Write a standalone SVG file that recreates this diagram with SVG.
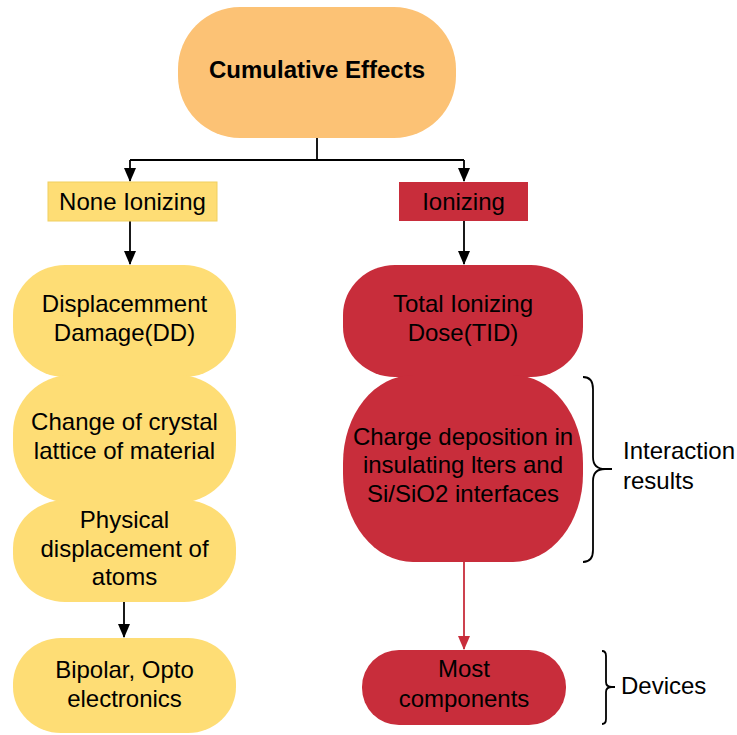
<svg xmlns="http://www.w3.org/2000/svg" width="737" height="735" viewBox="0 0 737 735">
<style>
text{font-family:"Liberation Sans",Arial,sans-serif;font-size:24px;fill:#000;text-anchor:middle}
.b{font-weight:bold}
.l{text-anchor:start}
.orange{fill:#FCC275}
.yellow{fill:#FEDD75}
.red{fill:#C82D3B}
.ln{fill:none;stroke:#000;stroke-width:1.8}
.rl{fill:none;stroke:#C82D3B;stroke-width:1.8}
</style>
<defs>
<marker id="ab" markerWidth="14" markerHeight="12" refX="13" refY="6" orient="auto" markerUnits="userSpaceOnUse" viewBox="0 0 14 12">
<path d="M0,0 L14,6 L0,12 Z" fill="#000"/>
</marker>
<marker id="ar" markerWidth="14" markerHeight="12" refX="13" refY="6" orient="auto" markerUnits="userSpaceOnUse" viewBox="0 0 14 12">
<path d="M0,0 L14,6 L0,12 Z" fill="#C82D3B"/>
</marker>
</defs>
<g id="connectors">
<path class="ln" d="M317,138 V160 M130,160 H464"/>
<path class="ln" d="M130,160 V181" marker-end="url(#ab)"/>
<path class="ln" d="M464,160 V181" marker-end="url(#ab)"/>
<path class="ln" d="M130,221 V264" marker-end="url(#ab)"/>
<path class="ln" d="M464,221 V264" marker-end="url(#ab)"/>
<path class="ln" d="M124,602 V637" marker-end="url(#ab)"/>
<path class="rl" d="M464,562 V649" marker-end="url(#ar)"/>
</g>
<g id="cumulative">
<rect class="orange" x="178" y="7" width="278" height="131" rx="62" ry="62"/>
<text class="b" x="317" y="78">Cumulative Effects</text>
</g>
<g id="none-ionizing">
<rect class="yellow" x="48" y="182" width="169" height="39" stroke="#F0CF60" stroke-width="1"/>
<text x="132.5" y="210">None Ionizing</text>
</g>
<g id="ionizing">
<rect class="red" x="399" y="182" width="129" height="39"/>
<text x="463.5" y="210">Ionizing</text>
</g>
<g id="dd">
<rect class="yellow" x="13" y="265" width="223" height="112" rx="52" ry="50"/>
<text x="124.5" y="312">Displacemment</text>
<text x="124.5" y="341">Damage(DD)</text>
</g>
<g id="lattice">
<rect class="yellow" x="13" y="375" width="223" height="128" rx="58" ry="58"/>
<text x="124.5" y="430">Change of crystal</text>
<text x="124.5" y="459">lattice of material</text>
</g>
<g id="physical">
<rect class="yellow" x="13" y="500" width="223" height="102" rx="52" ry="48"/>
<text x="124.5" y="528">Physical</text>
<text x="124.5" y="557">displacement of</text>
<text x="124.5" y="585">atoms</text>
</g>
<g id="bipolar">
<rect class="yellow" x="13" y="638" width="223" height="95" rx="48" ry="46"/>
<text x="124.5" y="678">Bipolar, Opto</text>
<text x="124.5" y="707">electronics</text>
</g>
<g id="tid">
<rect class="red" x="343" y="265" width="240" height="112" rx="52" ry="50"/>
<text x="463" y="312">Total Ionizing</text>
<text x="463" y="341">Dose(TID)</text>
</g>
<g id="charge">
<rect class="red" x="343" y="375" width="240" height="187" rx="70" ry="88"/>
<text x="463" y="445">Charge deposition in</text>
<text x="463" y="473">insulating lters and</text>
<text x="463" y="502">Si/SiO2 interfaces</text>
</g>
<g id="most">
<rect class="red" x="362" y="650" width="204" height="75" rx="37" ry="37"/>
<text x="464" y="677">Most</text>
<text x="464" y="707">components</text>
</g>
<g id="interaction-brace">
<path class="ln" d="M583,377 Q593,377 593,389 L593,457 Q593,469 605,469 L612,469 M605,469 Q593,469 593,481 L593,550 Q593,562 583,562"/>
<text class="l" x="623" y="459">Interaction</text>
<text class="l" x="623" y="489">results</text>
</g>
<g id="devices-brace">
<path class="ln" d="M602,651 Q606,651 606,656 L606,682 Q606,687 612,687 L615,687 M612,687 Q606,687 606,692 L606,719 Q606,724 602,724"/>
<text class="l" x="621" y="694">Devices</text>
</g>
</svg>
